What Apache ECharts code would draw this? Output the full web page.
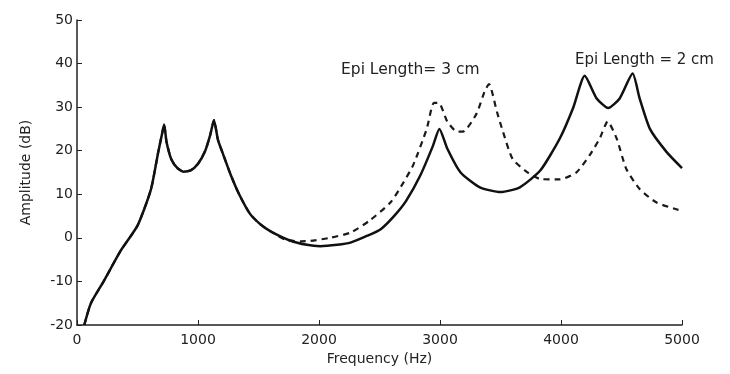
<!DOCTYPE html>
<html>
<head>
<meta charset="utf-8">
<script src="https://cdn.jsdelivr.net/npm/echarts@6/dist/echarts.min.js"></script>
<style>
  html, body { margin: 0; padding: 0; background: #fff; }
  #chart { width: 730px; height: 374px; }
</style>
</head>
<body>
<div id="chart"></div>
<script>
// frequency (Hz) / amplitude (dB)
const freq2cm = [60, 115, 220, 360, 500, 610, 670, 700, 720, 740, 780, 830, 880, 940, 1000, 1060, 1100, 1132, 1165, 1210, 1270, 1340, 1430, 1520, 1600, 1760, 1900, 2010, 2150, 2260, 2400, 2510, 2620, 2720, 2840, 2940, 2995, 3060, 3170, 3330, 3500, 3660, 3830, 3990, 4100, 4196, 4295, 4390, 4485, 4592, 4650, 4735, 4870, 5000];
const amp2cm  = [-20, -15, -10, -3, 2.8, 11, 19.5, 23.5, 26, 22, 18, 16, 15.2, 15.5, 17, 20, 23.5, 27, 22.5, 19, 14.5, 10, 5.5, 3, 1.5, -0.6, -1.6, -1.9, -1.6, -1.1, 0.5, 2, 5, 8.5, 14.5, 21, 25, 20.5, 15, 11.6, 10.5, 11.6, 15.5, 22.8, 29.8, 37.2, 32, 29.8, 32, 37.7, 32, 25, 19.8, 16];

const freq3cm = [60, 115, 220, 360, 500, 610, 670, 700, 720, 740, 780, 830, 880, 940, 1000, 1060, 1100, 1132, 1165, 1210, 1270, 1340, 1430, 1520, 1600, 1720, 1850, 1930, 2090, 2260, 2420, 2590, 2700, 2780, 2890, 2950, 2990, 3060, 3140, 3190, 3300, 3370, 3405, 3470, 3520, 3600, 3720, 3830, 3990, 4130, 4240, 4320, 4386, 4460, 4540, 4650, 4790, 4960, 5000];
const amp3cm  = [-20, -15, -10, -3, 2.8, 11, 19.5, 23.5, 26, 22, 18, 16, 15.2, 15.5, 17, 20, 23.5, 27, 22.5, 19, 14.5, 10, 5.5, 3, 1.5, -0.4, -0.8, -0.7, 0, 1.2, 4, 8.1, 12.8, 16.8, 25, 31, 31, 26.7, 24.4, 24.4, 28.4, 33.7, 35.3, 29, 24.4, 18.1, 15.1, 13.5, 13.4, 15.1, 19.1, 22.8, 26.7, 22.8, 15.8, 11.2, 8.1, 6.5, 6.3];

const xTicks = { min: 0, max: 5000, step: 1000 };
const yTicks = { min: -20, max: 50, step: 10 };

const pairs = (xs, ys) => xs.map((x, i) => [x, ys[i]]);
const font = 'DejaVu Sans';

var myChart = echarts.init(document.getElementById('chart'));
var option = {
  backgroundColor: '#fff',
  animation: false,
  grid: { left: 77, right: 48, top: 20, bottom: 49 },
  xAxis: {
    type: 'value',
    min: xTicks.min, max: xTicks.max, interval: xTicks.step,
    name: 'Frequency (Hz)',
    nameLocation: 'middle',
    nameGap: 26,
    nameTextStyle: { fontFamily: font, fontSize: 14, color: '#222' },
    axisLine: { onZero: false, lineStyle: { color: '#222', width: 1.5 } },
    axisTick: { inside: true, length: 5, lineStyle: { color: '#222' } },
    axisLabel: { fontFamily: font, fontSize: 14, color: '#222', margin: 8,
      formatter: v => String(v) },
    splitLine: { show: false }
  },
  yAxis: {
    type: 'value',
    min: yTicks.min, max: yTicks.max, interval: yTicks.step,
    name: 'Amplitude (dB)',
    nameLocation: 'middle',
    nameGap: 44,
    nameTextStyle: { fontFamily: font, fontSize: 14, color: '#222' },
    axisLine: { show: true, onZero: false, lineStyle: { color: '#222', width: 1.5 } },
    axisTick: { show: true, inside: true, length: 5, lineStyle: { color: '#222' } },
    axisLabel: { fontFamily: font, fontSize: 14, color: '#222', margin: 4,
      formatter: v => String(v) },
    splitLine: { show: false }
  },
  series: [
    {
      name: 'Epi Length = 3 cm',
      type: 'line',
      data: pairs(freq3cm, amp3cm),
      showSymbol: false,
      smooth: 0.2,
      lineStyle: { color: '#1a1a1a', width: 2.2, type: [6, 5] },
      z: 2
    },
    {
      name: 'Epi Length = 2 cm',
      type: 'line',
      data: pairs(freq2cm, amp2cm),
      showSymbol: false,
      smooth: 0.2,
      lineStyle: { color: '#111', width: 2.5 },
      z: 3
    }
  ],
  graphic: [
    { type: 'text', left: 341, top: 62,
      style: { text: 'Epi Length= 3 cm', font: '15.5px "DejaVu Sans"', fill: '#222' } },
    { type: 'text', left: 575, top: 53,
      style: { text: 'Epi Length = 2 cm', font: '15px "DejaVu Sans"', fill: '#222' } }
  ]
};
option && myChart.setOption(option);
</script>
</body>
</html>
